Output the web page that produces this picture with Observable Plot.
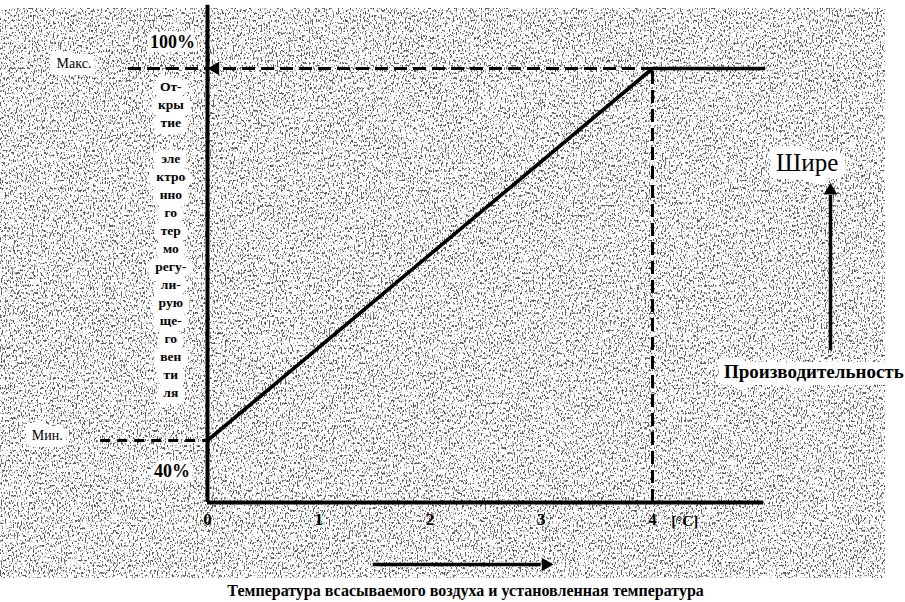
<!DOCTYPE html>
<html><head><meta charset="utf-8">
<script src="https://cdn.jsdelivr.net/npm/d3@7"></script>
<script src="https://cdn.jsdelivr.net/npm/@observablehq/plot@0.6"></script>
<style>
html,body{margin:0;padding:0;background:#fff;}
#chart svg{display:block;}
#chart g[aria-label="x-axis tick label"], #chart g[aria-label="x-axis tick label"] text{font-weight:700 !important;font-size:17px !important;}
</style></head><body><div id="chart"></div>
<script>
// Data
const temps = [0, 4, 5.0];            // °C difference
const opening = [40, 100, 100];       // valve opening, %
const xTicks = [0, 1, 2, 3, 4];
const maxOpening = 100;
const minOpening = 40;
const kneeTemp = 4;
const verticalLabel = ["От-","кры","тие","","эле","ктро","нно","го","тер","мо","регу-","ли-","рую","ще-","го","вен","ти","ля"];
const labelMax = "Макс.", labelMin = "Мин.", label100 = "100%", label40 = "40%";
const unitLabel = "[°C]";
const rightTop = "Шире", rightBottom = "Производительность";
const caption = "Температура всасываемого воздуха и установленная температура";

const curve = temps.map((t, i) => ({t, v: opening[i]}));
const serif = "'Liberation Serif', 'Times New Roman', 'DejaVu Serif', serif";
const halo = {fill: "black", stroke: "white", strokeWidth: 8, paintOrder: "stroke", fontFamily: serif};

const chart = Plot.plot({
  width: 905, height: 602,
  marginLeft: 207, marginRight: 119.5, marginTop: 6, marginBottom: 100,
  x: {domain: [0, 5.2], axis: "bottom", ticks: xTicks, tickSize: 0, tickPadding: 10, label: null, tickFormat: d => String(d)},
  y: {domain: [30, 110], axis: null},
  style: {fontFamily: serif, fontSize: "15px", background: "transparent", color: "black"},
  marks: [
    // axes lines
    Plot.ruleX([0], {y1: 30, y2: 110.2, stroke: "black", strokeWidth: 4}),
    Plot.ruleY([30], {x1: 0, x2: 5.0, stroke: "black", strokeWidth: 4}),
    // dashed reference lines
    Plot.ruleY([maxOpening], {x1: -0.71, x2: kneeTemp, stroke: "black", strokeWidth: 3, strokeDasharray: "13,6"}),
    Plot.ruleY([minOpening], {x1: -0.96, x2: 0, stroke: "black", strokeWidth: 3, strokeDasharray: "10,7"}),
    Plot.ruleX([kneeTemp], {y1: 30, y2: maxOpening, stroke: "black", strokeWidth: 3, strokeDasharray: "13,6"}),
    Plot.dot([maxOpening], {x: 0.07, y: d => d, symbol: "triangle", r: 5, fill: "black", stroke: "none", rotate: -90}),
    // characteristic
    Plot.line(curve, {x: "t", y: "v", stroke: "black", strokeWidth: 3.6}),
    // left labels
    Plot.text([label100], {x: -0.315, y: 104.2, text: d => d, fontWeight: "bold", fontSize: 18, ...halo}),
    Plot.text([label40], {x: -0.32, y: 35.0, text: d => d, fontWeight: "bold", fontSize: 18, ...halo}),
    Plot.text([labelMax], {x: -1.2, y: 100.8, text: d => d, fontSize: 14, ...halo, strokeWidth: 14}),
    Plot.text([labelMin], {x: -1.44, y: 40.8, text: d => d, fontSize: 14, ...halo, strokeWidth: 14}),
    Plot.text([verticalLabel.join("\n")], {x: -0.33, y: 98.4, text: d => d, fontSize: 13.5, fontWeight: "bold", lineAnchor: "top", lineHeight: 18/13.5, ...halo, strokeWidth: 14}),
    Plot.text([unitLabel], {x: 4.29, y: 30, dy: 19, text: d => d, fontWeight: "bold", fontSize: 15, fontFamily: serif}),
    // right side
    Plot.text([rightTop], {x: 5.39, y: 84.8, text: d => d, fontSize: 25, ...halo, strokeWidth: 16}),
    Plot.ruleX([5.6], {y1: 54.5, y2: 79.5, stroke: "black", strokeWidth: 3.5}),
    Plot.dot([5.6], {x: d => d, y: 80.3, symbol: "triangle", r: 5, fill: "black", stroke: "none"}),
    Plot.text([rightBottom], {x: 5.45, y: 51.0, text: d => d, fontSize: 19, fontWeight: "bold", ...halo, strokeWidth: 14}),
    // bottom arrow + caption
    Plot.ruleY([20], {x1: 1.49, x2: 3.0, stroke: "black", strokeWidth: 3.5}),
    Plot.dot([20], {x: 3.04, y: d => d, symbol: "triangle", r: 5, fill: "black", stroke: "none", rotate: 90}),
    Plot.text([caption], {x: 2.32, y: 15.8, text: d => d, fontSize: 16, fontWeight: "bold", ...halo})
  ]
});
document.getElementById("chart").appendChild(chart);

// scanned-paper speckle background (styling only)
const svg = d3.select(chart);
const defs = svg.insert("defs", ":first-child");
const f = defs.append("filter").attr("id", "speckle").attr("x", 0).attr("y", 0).attr("width", "100%").attr("height", "100%");
f.append("feTurbulence").attr("type", "fractalNoise").attr("baseFrequency", "0.75 0.4").attr("numOctaves", 2).attr("seed", 5);
f.append("feColorMatrix").attr("type", "matrix").attr("values", "0 0 0 0 0.1  0 0 0 0 0.1  0 0 0 0 0.1  9 0 0 0 -5.0");
svg.insert("rect", "defs + *").attr("x", 0).attr("y", 8).attr("width", 885).attr("height", 570).attr("fill", "white").attr("filter", "url(#speckle)");
</script></body></html>
